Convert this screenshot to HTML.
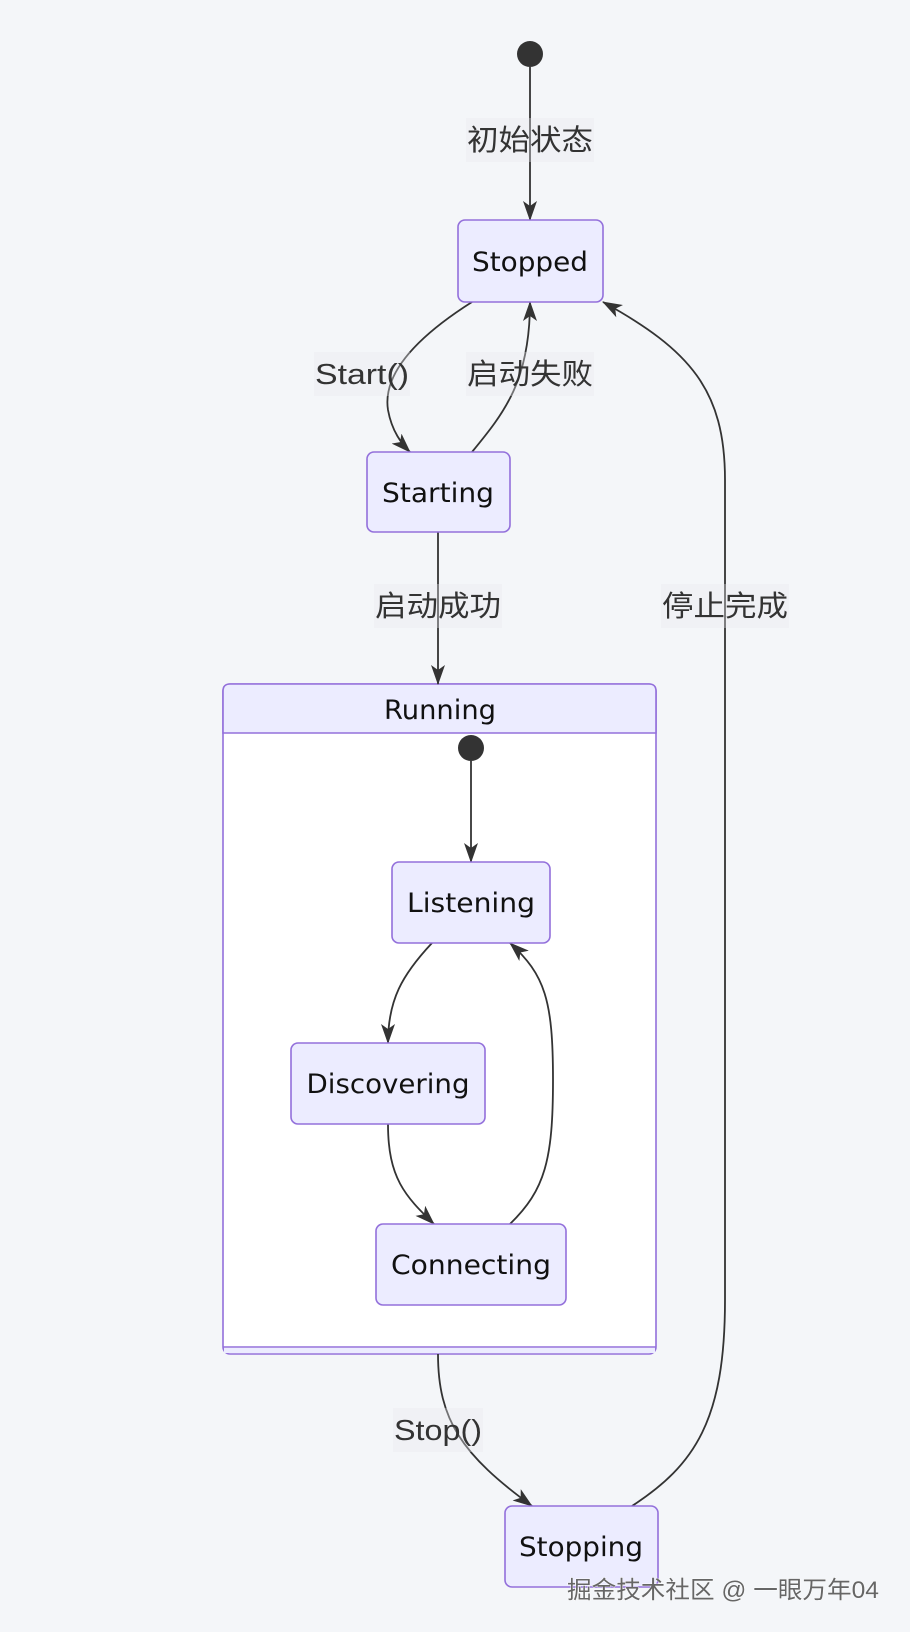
<!DOCTYPE html>
<html><head><meta charset="utf-8"><style>
html,body{margin:0;padding:0;background:#f4f6f9;}
svg{display:block}
.n{fill:#ececff;stroke:#9370db;stroke-width:1.6}
.t{font-family:"DejaVu Sans","Liberation Sans",sans-serif;font-size:27px;fill:#111;text-anchor:middle}
.l{font-family:"Liberation Sans","Noto Sans CJK SC",sans-serif;font-size:29px;fill:#333;text-anchor:middle}
.e{fill:none;stroke:#333;stroke-width:1.8}
.lb{fill:#e8e8ee;opacity:0.35}
</style></head><body>
<svg width="910" height="1632" viewBox="0 0 910 1632" xmlns="http://www.w3.org/2000/svg">
<defs>
<marker id="a" viewBox="0 0 20 14" refX="19" refY="7" markerWidth="20" markerHeight="14" markerUnits="userSpaceOnUse" orient="auto">
<path d="M0,0 L20,7 L0,14 L5,7 Z" fill="#333"/>
</marker>
</defs>
<rect width="910" height="1632" fill="#f4f6f9"/>

<rect x="223" y="684" width="433" height="670" rx="7" fill="#fff" stroke="#9370db" stroke-width="1.6"/>
<path d="M223,733 L223,691 Q223,684 230,684 L649,684 Q656,684 656,691 L656,733 Z" fill="#ececff" stroke="#9370db" stroke-width="1.6"/>
<line x1="223" y1="1347" x2="656" y2="1347" stroke="#9370db" stroke-width="1.6"/>
<rect x="224" y="1348" width="431" height="5" fill="#ececff"/>
<text class="t" x="440" y="719" textLength="112" lengthAdjust="spacingAndGlyphs">Running</text>

<path class="e" d="M530,67 L530,220" marker-end="url(#a)"/>
<path class="e" d="M472,302 C420,335 382,372 388,410 C392,432 402,444 410,452" marker-end="url(#a)"/>
<path class="e" d="M472,452 C505,412 530,380 530,302" marker-end="url(#a)"/>
<path class="e" d="M438,532 L438,684" marker-end="url(#a)"/>
<path class="e" d="M632,1506 C695,1465 725,1420 725,1300 L725,480 C725,390 690,350 603,302" marker-end="url(#a)"/>
<path class="e" d="M438,1354 C438,1420 462,1455 532,1506" marker-end="url(#a)"/>
<path class="e" d="M471,761 L471,862" marker-end="url(#a)"/>
<path class="e" d="M432,943 C402,975 388,1000 388,1043" marker-end="url(#a)"/>
<path class="e" d="M388,1124 C388,1178 405,1196 434,1224" marker-end="url(#a)"/>
<path class="e" d="M510,1224 C545,1190 553,1160 553,1080 C553,1000 545,975 510,943" marker-end="url(#a)"/>

<circle cx="530" cy="54" r="13" fill="#333"/>
<circle cx="471" cy="748" r="13" fill="#333"/>

<rect class="lb" x="466" y="118" width="128" height="44"/>
<text class="l" x="530" y="150" textLength="126" lengthAdjust="spacingAndGlyphs">初始状态</text>
<rect class="lb" x="314" y="352" width="96" height="44"/>
<text class="l" x="362" y="384" textLength="94" lengthAdjust="spacingAndGlyphs">Start()</text>
<rect class="lb" x="466" y="352" width="128" height="44"/>
<text class="l" x="530" y="384" textLength="126" lengthAdjust="spacingAndGlyphs">启动失败</text>
<rect class="lb" x="374" y="584" width="128" height="44"/>
<text class="l" x="438" y="616" textLength="126" lengthAdjust="spacingAndGlyphs">启动成功</text>
<rect class="lb" x="661" y="584" width="128" height="44"/>
<text class="l" x="725" y="616" textLength="126" lengthAdjust="spacingAndGlyphs">停止完成</text>
<rect class="lb" x="393" y="1408" width="90" height="44"/>
<text class="l" x="438" y="1440" textLength="88" lengthAdjust="spacingAndGlyphs">Stop()</text>

<rect class="n" x="458" y="220" width="145" height="82" rx="7"/>
<text class="t" x="530" y="271" textLength="116" lengthAdjust="spacingAndGlyphs">Stopped</text>
<rect class="n" x="367" y="452" width="143" height="80" rx="7"/>
<text class="t" x="438" y="502" textLength="112" lengthAdjust="spacingAndGlyphs">Starting</text>
<rect class="n" x="392" y="862" width="158" height="81" rx="7"/>
<text class="t" x="471" y="912" textLength="128" lengthAdjust="spacingAndGlyphs">Listening</text>
<rect class="n" x="291" y="1043" width="194" height="81" rx="7"/>
<text class="t" x="388" y="1093" textLength="163" lengthAdjust="spacingAndGlyphs">Discovering</text>
<rect class="n" x="376" y="1224" width="190" height="81" rx="7"/>
<text class="t" x="471" y="1274" textLength="160" lengthAdjust="spacingAndGlyphs">Connecting</text>
<rect class="n" x="505" y="1506" width="153" height="81" rx="7"/>
<text class="t" x="581" y="1556" textLength="124" lengthAdjust="spacingAndGlyphs">Stopping</text>

<text x="567" y="1598" font-family="'Liberation Sans','Noto Sans CJK SC',sans-serif" font-size="24" fill="#666" stroke="#fff" stroke-width="0.8" paint-order="stroke" textLength="312" lengthAdjust="spacingAndGlyphs">掘金技术社区 @ 一眼万年04</text>
</svg>
</body></html>
